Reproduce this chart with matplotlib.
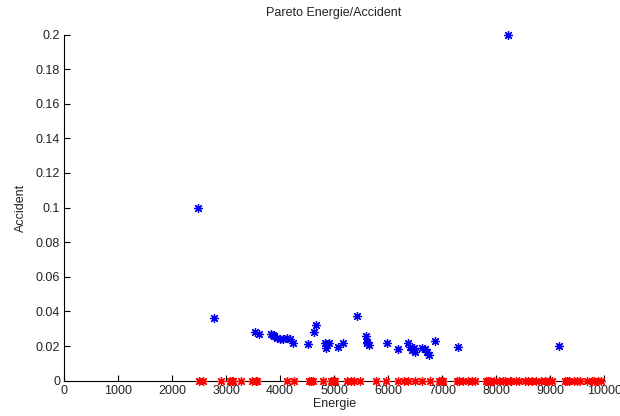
import matplotlib
matplotlib.use("Agg")
import matplotlib.pyplot as plt

# Pareto front points (blue)
pareto_energie = [2477, 2774, 3533, 3613, 3830, 3860, 3890, 3940, 4000, 4060, 4120, 4180,
                  4232, 4521, 4627, 4670, 4830, 4860, 4900, 4850, 5077, 5170, 5418, 5590,
                  5610, 5640, 5603, 5973, 6189, 6363, 6400, 6440, 6470, 6500, 6622, 6680,
                  6720, 6763, 6869, 7290, 8226, 9166]
pareto_accident = [0.1, 0.036, 0.0279, 0.0267, 0.027, 0.0265, 0.026, 0.0245, 0.0243, 0.024,
                   0.0245, 0.024, 0.0219, 0.0213, 0.0279, 0.0319, 0.022, 0.0205, 0.0215,
                   0.019, 0.0194, 0.0219, 0.0373, 0.0257, 0.0217, 0.0208, 0.0224, 0.0215,
                   0.018, 0.0215, 0.0196, 0.0177, 0.0187, 0.0164, 0.0188, 0.018, 0.0168,
                   0.0147, 0.0228, 0.0196, 0.2, 0.0201]

# Zero-accident solutions (red)
zero_energie = [2495, 2563, 2902, 3071, 3105, 3120, 3275, 3478, 3546, 3580, 4122, 4258, 4529,
                4563, 4600, 4800, 4936, 4969, 5003, 5020, 5241, 5308, 5376, 5478, 5783, 5953,
                6190, 6300, 6359, 6495, 6631, 6766, 6936, 6970, 7003, 7020, 7275, 7308, 7390,
                7478, 7546, 7600, 7817, 7851, 7885, 7953, 8054, 8122, 8156, 8258, 8280, 8359,
                8427, 8529, 8597, 8664, 8732, 8834, 8902, 8969, 9037, 9275, 9308, 9342, 9444,
                9500, 9546, 9681, 9783, 9817, 9885, 9950]
zero_accident = [0.0] * len(zero_energie)

title = "Pareto Energie/Accident"
xlabel = "Energie"
ylabel = "Accident"
xticks = [0, 1000, 2000, 3000, 4000, 5000, 6000, 7000, 8000, 9000, 10000]
yticks = [0, 0.02, 0.04, 0.06, 0.08, 0.1, 0.12, 0.14, 0.16, 0.18, 0.2]

plt.rcParams['font.family'] = ['Liberation Sans', 'DejaVu Sans']

fig = plt.figure(figsize=(6.2, 4.16), dpi=100)
ax = fig.add_axes([0.1035, 0.085, 0.8710, 0.832])

ast = (8, 2, 0)
ax.plot(pareto_energie, pareto_accident, linestyle='none', marker=ast, markersize=6.5,
        markeredgewidth=0.9, color='#0000ee', clip_on=False, zorder=3)
ax.plot(zero_energie, zero_accident, linestyle='none', marker=ast, markersize=6.5,
        markeredgewidth=0.9, color='#ff0000', clip_on=False, zorder=3)

ax.set_xlim(0, 10000)
ax.set_ylim(0, 0.2)
ax.set_xticks(xticks)
ax.set_xticklabels([str(t) for t in xticks])
ax.set_yticks(yticks)
ax.set_yticklabels(['0', '0.02', '0.04', '0.06', '0.08', '0.1', '0.12', '0.14', '0.16', '0.18', '0.2'])

for s in ['top', 'right']:
    ax.spines[s].set_visible(False)
for s in ['left', 'bottom']:
    ax.spines[s].set_linewidth(0.8)
    ax.spines[s].set_color('black')

ax.tick_params(direction='in', length=4, width=0.8, labelsize=9, labelcolor='#222222', pad=3)

ax.set_title(title, fontsize=9, color='#222222', pad=13)
ax.set_xlabel(xlabel, fontsize=9, color='#222222', labelpad=1)
ax.set_ylabel(ylabel, fontsize=9, color='#222222', labelpad=6)

fig.savefig('out.png', dpi=100)
